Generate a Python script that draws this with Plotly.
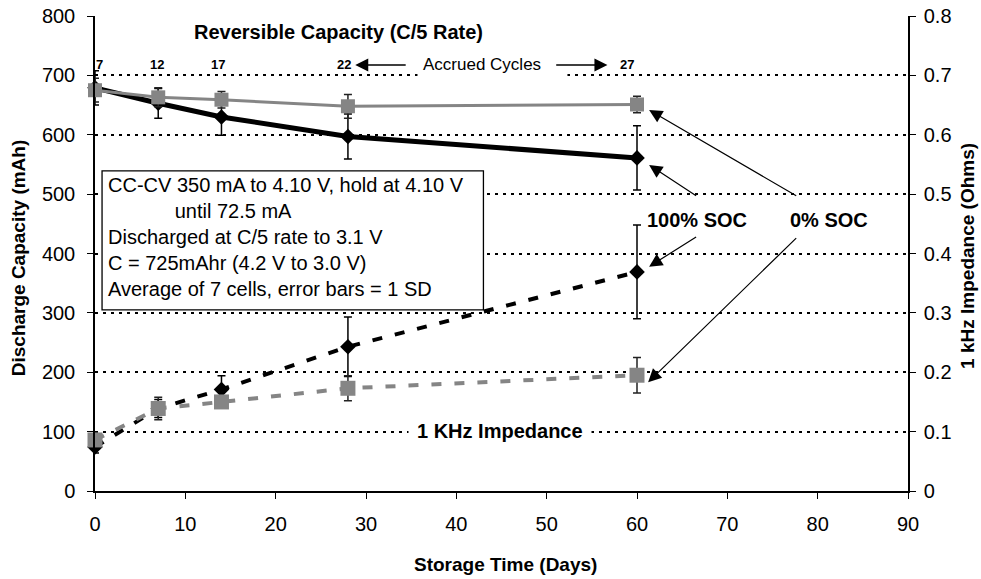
import plotly.graph_objects as go

# ---------------- data ----------------
days = [0, 7, 14, 28, 60]
cycles = ["7", "12", "17", "22", "27"]

cap_100soc = [679, 653, 630, 597, 561]       # mAh
cap_100soc_sd = [29, 25, 31, 38, 54]
cap_0soc = [675, 663, 659, 648, 651]
cap_0soc_sd = [20, 16, 14, 20, 14]

imp_100soc = [0.074, 0.139, 0.171, 0.243, 0.369]  # Ohms
imp_100soc_sd = [0.010, 0.015, 0.023, 0.050, 0.079]
imp_0soc = [0.086, 0.139, 0.150, 0.173, 0.195]
imp_0soc_sd = [0.010, 0.019, 0.010, 0.021, 0.030]

box_lines = [
    "CC-CV 350 mA to 4.10 V, hold at 4.10 V",
    "\u00a0" * 12 + "until 72.5 mA",
    "Discharged at C/5 rate to 3.1 V",
    "C = 725mAhr (4.2 V to 3.0 V)",
    "Average of 7 cells, error bars = 1 SD",
]

FONT = "Liberation Sans, Arial, sans-serif"
GRAY = "#858585"

fig = go.Figure()

fig.add_trace(go.Scatter(
    x=days, y=cap_100soc, mode="lines+markers", cliponaxis=False,
    line=dict(color="black", width=5),
    marker=dict(symbol="diamond", size=12, color="black"),
    error_y=dict(type="data", array=cap_100soc_sd, color="black", thickness=1.5, width=4),
    showlegend=False))
fig.add_trace(go.Scatter(
    x=days, y=cap_0soc, mode="lines+markers", cliponaxis=False,
    line=dict(color=GRAY, width=3),
    marker=dict(symbol="square", size=14, color=GRAY),
    error_y=dict(type="data", array=cap_0soc_sd, color="#222222", thickness=1.5, width=4),
    showlegend=False))
fig.add_trace(go.Scatter(
    x=days, y=imp_100soc, yaxis="y2", mode="lines+markers", cliponaxis=False,
    line=dict(color="black", width=4, dash="10px,13px"),
    marker=dict(symbol="diamond", size=12, color="black"),
    error_y=dict(type="data", array=imp_100soc_sd, color="black", thickness=1.5, width=4),
    showlegend=False))
fig.add_trace(go.Scatter(
    x=days, y=imp_0soc, yaxis="y2", mode="lines+markers", cliponaxis=False,
    line=dict(color=GRAY, width=4, dash="10px,13px"),
    marker=dict(symbol="square", size=15, color=GRAY),
    error_y=dict(type="data", array=imp_0soc_sd, color="#222222", thickness=1.5, width=4),
    showlegend=False))

shapes = [
    # note box
    dict(type="rect", xref="x", yref="y", x0=0.78, x1=43.0, y0=305, y1=539,
         line=dict(color="black", width=1.3), fillcolor="white", layer="between"),
    # white patch behind "Accrued Cycles"
    dict(type="rect", xref="x", yref="y", x0=35.7, x1=52.3, y0=690, y1=735,
         line=dict(width=0), fillcolor="white", layer="between"),
]

ann = []
ann.append(dict(x=27.0, y=773, xref="x", yref="y", text="<b>Reversible Capacity (C/5 Rate)</b>",
                showarrow=False, font=dict(size=20, family=FONT, color="black")))
shifts = [4, -1, -3, -4, -10]
for d, c, s in zip(days, cycles, shifts):
    ann.append(dict(x=d, y=717.5, xref="x", yref="y", text=f"<b>{c}</b>", showarrow=False,
                    xshift=s, font=dict(size=13, family=FONT, color="black")))
ann.append(dict(x=42.8, y=717.5, xref="x", yref="y", text="Accrued Cycles", showarrow=False,
                font=dict(size=17, family=FONT, color="black")))
# accrued cycles arrows
arrow_style = dict(showarrow=True, arrowhead=2, arrowsize=2.0, arrowwidth=1.3, arrowcolor="black",
                   text="", axref="x", ayref="y", xref="x", yref="y", standoff=0, startstandoff=0)
ann.append(dict(x=28.81, y=717.5, ax=34.56, ay=717.5, **arrow_style))
ann.append(dict(x=56.73, y=717.5, ax=50.89, ay=717.5, **arrow_style))

# note box text
ann.append(dict(x=1.3, y=428.6, xref="x", yref="y", text="<br>".join(box_lines),
                showarrow=False, align="left", xanchor="left", yanchor="middle", borderpad=0,
                font=dict(size=20, family=FONT, color="black")))

# SOC labels and arrows
ann.append(dict(x=66.6, y=456.4, xref="x", yref="y", text="<b>100% SOC</b>", showarrow=False,
                font=dict(size=20, family=FONT, color="black")))
ann.append(dict(x=81.3, y=456.4, xref="x", yref="y", text="<b>0% SOC</b>", showarrow=False,
                font=dict(size=20, family=FONT, color="black")))
soc_arrow = dict(arrow_style)
soc_arrow["arrowwidth"] = 1.2
soc_arrow["arrowsize"] = 2.2
ann.append(dict(x=61.34, y=549.1, ax=66.71, ay=495.7, **soc_arrow))
ann.append(dict(x=61.34, y=377.8, ax=66.71, ay=429.5, **soc_arrow))
ann.append(dict(x=61.34, y=641.7, ax=77.79, ay=495.7, **soc_arrow))
ann.append(dict(x=61.23, y=183.1, ax=77.79, ay=428.3, **soc_arrow))

ann.append(dict(x=44.8, y=101.6, xref="x", yref="y", text="<b>1 KHz Impedance</b>", showarrow=False,
                bgcolor="white", borderpad=8, font=dict(size=20, family=FONT, color="black")))

# axis titles placed as paper annotations
ann.append(dict(x=-77, y=0.49, xref="paper", yref="paper", xshift=0, text="<b>Discharge Capacity (mAh)</b>",
                showarrow=False, textangle=-90, font=dict(size=19, family=FONT, color="black"),
                xanchor="center", yanchor="middle"))
ann.append(dict(x=0.5055, y=-0.155, xref="paper", yref="paper", text="<b>Storage Time (Days)</b>",
                showarrow=False, font=dict(size=19, family=FONT, color="black"),
                xanchor="center", yanchor="middle"))
ann.append(dict(x=1.0, y=0.495, xref="paper", yref="paper", xshift=60, text="<b>1 kHz Impedance (Ohms)</b>",
                showarrow=False, textangle=-90, font=dict(size=19, family=FONT, color="black"),
                xanchor="center", yanchor="middle"))
ann[-3]["x"] = 0.0
ann[-3]["xshift"] = -77

grid = dict(showgrid=True, gridcolor="black", gridwidth=1.5, griddash="3px,5px")
common = dict(zeroline=False, showline=True, linecolor="black", linewidth=1.5,
              ticks="outside", ticklen=6, tickwidth=1.3, tickcolor="black",
              tickfont=dict(size=20), automargin=False)

fig.update_layout(
    width=981, height=579,
    margin=dict(l=95, r=73, t=16, b=88, autoexpand=False),
    paper_bgcolor="white", plot_bgcolor="white",
    font=dict(family=FONT, color="black", size=20),
    xaxis=dict(range=[0, 90], dtick=10, tick0=0, showgrid=False,
               ticklabelstandoff=8, **common),
    yaxis=dict(range=[0, 800], dtick=100, tick0=0,
               ticklabelstandoff=8, **common, **grid),
    yaxis2=dict(range=[0, 0.8], dtick=0.1, tick0=0, overlaying="y", side="right",
                showgrid=False, tickformat=".1~f", ticklabelstandoff=4, **common),
    shapes=shapes,
    annotations=ann,
)

fig.write_html("out.html")
